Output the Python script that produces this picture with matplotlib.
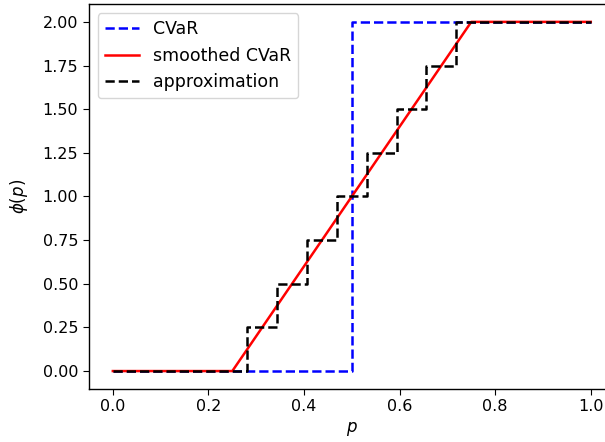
import matplotlib
matplotlib.use('Agg')
import matplotlib.pyplot as plt

# ── data ────────────────────────────────────────────────────────────────────
cvar_p   = [0.0, 0.5, 0.5, 1.0]
cvar_phi = [0.0, 0.0, 2.0, 2.0]

smooth_p   = [0.0, 0.25, 0.75, 1.0]
smooth_phi = [0.0, 0.0, 2.0, 2.0]

# staircase: breakpoints and the level held from each one onwards
approx_p   = [0.0, 0.28125, 0.34375, 0.40625, 0.46875,
              0.53125, 0.59375, 0.65625, 0.71875, 1.0]
approx_phi = [0.0, 0.25, 0.5, 0.75, 1.0,
              1.25, 1.5, 1.75, 2.0, 2.0]

plt.rcParams.update({
    'font.size': 11.5,
    'axes.linewidth': 1.0,
    'xtick.major.size': 4.2,
    'ytick.major.size': 4.2,
    'legend.fontsize': 12.5,
})

fig = plt.figure(figsize=(6.05, 4.42), dpi=100)
# the right spine falls outside the picture, as in the reference crop
ax = fig.add_axes([0.147, 0.121, 0.869, 0.869])

ax.plot(cvar_p, cvar_phi, color='blue', ls='--', lw=1.8, label='CVaR')
ax.plot(smooth_p, smooth_phi, color='red', ls='-', lw=1.8, label='smoothed CVaR')
ax.step(approx_p, approx_phi, where='post', color='black', ls='--', lw=1.8,
        label='approximation')

ax.set_xlabel(r'$p$', fontsize=12)
ax.set_ylabel(r'$\phi(p)$', fontsize=12, labelpad=9)
ax.set_xticks([0.0, 0.2, 0.4, 0.6, 0.8, 1.0])
ax.set_yticks([0.0, 0.25, 0.5, 0.75, 1.0, 1.25, 1.5, 1.75, 2.0])
ax.legend(loc='upper left')

fig.savefig('out.png', dpi=100)
